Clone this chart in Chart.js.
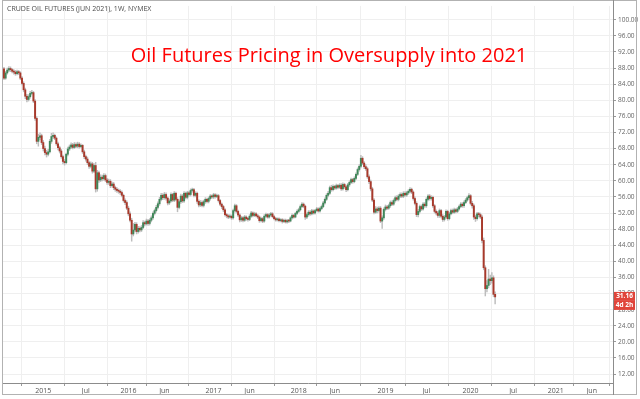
<!DOCTYPE html>
<html>
<head>
<meta charset="utf-8">
<script src="https://cdn.jsdelivr.net/npm/chart.js@4.4.1/dist/chart.umd.min.js"></script>
<style>
  html, body { margin: 0; padding: 0; background: #fff; }
</style>
</head>
<body>
<canvas id="myChart" width="640" height="399"></canvas>
<script>
// weekly candles, first bar = week of 2014-07-21
const startDate = "2014-07-21";

const open = [
  87.8, 85.5, 86.8, 87.5, 87.9, 87.6, 87.2, 87.0, 86.6, 87.1,
  86.8, 85.5, 84.2, 82.6, 81.0, 80.2, 80.9, 81.7, 81.9, 79.8,
  75.5, 69.8, 70.8, 71.2, 69.5, 68.0, 67.0, 66.6, 67.2, 69.8,
  71.0, 71.3, 70.6, 69.2, 68.2, 67.4, 66.0, 64.8, 64.5, 66.6,
  67.9, 68.4, 68.9, 68.3, 69.0, 68.6, 69.1, 68.5, 68.8, 67.2,
  66.0, 65.4, 64.5, 63.6, 64.2, 62.4, 63.8, 58.0, 62.0, 60.2,
  60.9, 60.5, 61.3, 60.2, 59.6, 59.9, 58.8, 59.2, 58.3, 57.9,
  57.6, 57.4, 57.1, 56.4, 55.1, 54.6, 53.2, 51.8, 50.2, 46.8,
  47.8, 49.2, 47.4, 48.2, 47.8, 48.4, 49.6, 49.3, 50.0, 49.4,
  50.2, 50.8, 51.9, 52.6, 53.4, 54.3, 55.4, 56.4, 55.8, 56.6,
  55.7, 54.5, 55.0, 56.6, 55.2, 56.9, 55.4, 53.4, 54.8, 56.2,
  55.0, 56.9, 55.9, 57.0, 56.6, 57.6, 57.8, 56.4, 56.9, 54.9,
  54.0, 54.6, 53.9, 54.8, 55.4, 54.9, 55.6, 56.2, 56.0, 56.5,
  56.1, 56.3, 55.1, 54.2, 53.6, 52.8, 51.6, 51.3, 51.0, 51.2,
  50.8, 52.6, 53.8, 52.4, 51.5, 50.3, 50.8, 50.2, 51.0, 50.6,
  50.4, 51.2, 52.0, 51.4, 51.8, 51.3, 51.0, 50.1, 50.6, 50.0,
  51.2, 51.6, 51.0, 51.5, 51.8, 51.1, 50.6, 50.3, 50.5, 50.1,
  50.3, 49.9, 50.2, 49.8, 50.1, 50.0, 50.8, 51.4, 51.0, 51.9,
  52.4, 52.8, 53.6, 54.2, 53.7, 51.0, 51.6, 52.2, 51.8, 52.5,
  52.0, 52.6, 53.0, 52.5, 53.1, 53.6, 54.5, 55.4, 56.4, 56.9,
  58.3, 57.8, 58.6, 58.2, 58.8, 58.4, 58.9, 58.0, 59.1, 58.5,
  57.8, 59.0, 59.6, 60.3, 59.8, 60.6, 61.6, 62.8, 63.6, 65.6,
  64.4, 63.5, 63.0, 61.0, 59.8, 58.0, 55.2, 52.2, 53.0, 52.6,
  53.2, 50.0, 50.8, 52.9, 53.5, 53.2, 53.8, 54.6, 54.2, 55.1,
  55.8, 55.4, 56.2, 56.6, 56.2, 56.9, 56.5, 57.0, 57.4, 57.9,
  57.2, 55.6, 54.4, 51.6, 52.4, 53.6, 53.0, 54.2, 53.8, 55.4,
  56.2, 55.6, 55.9, 53.8, 52.4, 52.0, 51.4, 52.6, 51.2, 50.4,
  51.0, 52.4, 50.6, 51.8, 52.6, 52.2, 52.8, 52.4, 53.0, 53.6,
  54.2, 53.8, 54.6, 55.2, 55.8, 56.3, 54.4, 53.8, 51.0, 50.6,
  51.8, 51.6, 51.0, 45.2, 38.4, 33.2, 34.0, 35.6, 35.2, 35.9, 31.8
];
const high = [
  88.2, 87.2, 88.0, 88.4, 88.3, 87.9, 87.6, 87.4, 87.5, 87.4,
  87.1, 85.9, 84.6, 83.0, 81.5, 81.4, 82.2, 82.5, 82.2, 80.2,
  75.9, 71.6, 71.9, 71.6, 70.0, 68.6, 67.6, 67.8, 70.3, 71.8,
  71.9, 71.6, 70.9, 69.6, 68.6, 67.8, 66.4, 65.3, 66.9, 68.4,
  68.9, 69.4, 69.3, 69.5, 69.4, 69.6, 69.5, 69.2, 69.0, 67.6,
  66.4, 65.9, 64.9, 64.7, 64.6, 64.3, 64.6, 62.6, 62.4, 61.5,
  61.4, 61.8, 61.7, 60.6, 60.4, 60.3, 59.7, 59.6, 58.7, 58.3,
  58.0, 57.8, 57.5, 56.7, 55.5, 55.0, 53.7, 52.3, 50.7, 49.4,
  49.7, 49.6, 48.7, 48.6, 48.9, 50.1, 50.0, 50.5, 50.4, 50.6,
  51.3, 52.3, 53.0, 53.9, 54.8, 55.9, 56.9, 56.8, 57.1, 57.0,
  56.0, 55.5, 57.0, 56.9, 57.3, 57.2, 55.8, 55.3, 56.7, 56.6,
  57.3, 57.2, 57.4, 57.4, 58.0, 58.2, 58.1, 57.3, 57.2, 55.3,
  55.1, 55.0, 55.2, 55.8, 55.7, 56.0, 56.6, 56.5, 56.9, 56.8,
  56.7, 56.6, 55.4, 54.5, 53.9, 53.1, 51.9, 51.6, 51.6, 51.5,
  53.0, 54.2, 54.1, 52.7, 51.8, 51.2, 51.1, 51.4, 51.3, 50.9,
  51.6, 52.4, 52.3, 52.2, 52.1, 51.7, 51.3, 51.0, 50.9, 51.6,
  52.0, 51.9, 51.9, 52.2, 52.1, 51.4, 50.9, 50.8, 50.8, 50.6,
  50.6, 50.5, 50.5, 50.4, 50.4, 51.1, 51.8, 51.7, 52.2, 52.8,
  53.2, 54.0, 54.6, 54.5, 54.0, 52.0, 52.6, 52.6, 52.9, 52.8,
  52.9, 53.4, 53.3, 53.5, 54.0, 54.9, 55.8, 56.8, 57.4, 58.7,
  58.9, 59.0, 58.9, 59.2, 59.1, 59.3, 59.3, 59.5, 59.4, 58.8,
  59.4, 60.0, 60.7, 60.6, 61.0, 62.0, 63.2, 64.0, 66.3, 66.0,
  64.8, 64.0, 63.4, 61.5, 60.2, 58.4, 55.6, 53.6, 53.5, 53.6,
  53.6, 51.3, 53.3, 54.0, 53.9, 54.2, 55.0, 55.0, 55.5, 56.2,
  56.3, 56.6, 57.0, 57.0, 57.3, 57.3, 57.4, 57.8, 58.3, 58.2,
  57.5, 56.0, 54.8, 52.9, 54.0, 54.0, 54.6, 54.6, 55.8, 56.6,
  56.6, 56.3, 56.2, 54.1, 52.8, 52.4, 53.0, 52.9, 51.6, 51.4,
  52.8, 52.7, 52.2, 53.0, 53.0, 53.2, 53.1, 53.4, 54.0, 54.6,
  54.6, 55.0, 55.6, 56.2, 56.8, 56.6, 54.9, 54.2, 51.5, 52.2,
  52.2, 52.0, 51.5, 45.8, 38.9, 35.2, 38.0, 36.6, 37.2, 36.4, 32.4
];
const low = [
  85.1, 85.2, 86.5, 87.1, 87.1, 86.8, 86.5, 86.2, 86.3, 86.4,
  85.1, 83.8, 82.1, 80.4, 79.6, 79.8, 80.5, 81.3, 79.4, 75.0,
  69.2, 68.6, 70.2, 69.0, 67.4, 66.4, 65.9, 66.2, 66.9, 69.3,
  70.5, 70.2, 68.8, 67.7, 66.9, 65.6, 64.2, 63.9, 64.2, 66.2,
  67.5, 68.0, 67.9, 68.0, 68.2, 68.2, 68.1, 68.2, 66.8, 65.5,
  64.9, 64.0, 63.1, 63.2, 61.9, 62.0, 57.2, 57.4, 59.6, 59.8,
  60.0, 60.1, 59.8, 59.1, 59.1, 58.3, 58.4, 57.8, 57.4, 57.1,
  56.9, 56.6, 56.0, 54.7, 54.1, 52.8, 51.3, 49.8, 45.0, 46.3,
  47.3, 46.8, 47.0, 47.3, 47.4, 48.1, 48.8, 49.0, 48.9, 49.0,
  49.8, 50.4, 51.5, 52.2, 53.0, 53.9, 55.0, 55.3, 55.4, 55.2,
  54.0, 54.1, 54.7, 54.8, 54.8, 55.0, 52.3, 53.0, 54.4, 54.6,
  54.6, 55.5, 55.5, 56.2, 56.2, 57.2, 56.0, 56.0, 54.4, 53.5,
  53.6, 53.5, 53.5, 54.4, 54.5, 54.5, 55.2, 55.6, 55.6, 55.7,
  55.8, 54.7, 53.8, 53.1, 52.3, 51.2, 50.8, 50.6, 50.7, 50.4,
  50.5, 52.2, 52.0, 51.1, 49.8, 49.9, 49.8, 49.9, 50.2, 50.0,
  50.1, 50.9, 51.0, 51.1, 51.0, 50.6, 49.7, 49.8, 49.6, 49.7,
  50.9, 50.7, 50.7, 51.2, 50.8, 50.3, 50.0, 50.0, 49.8, 49.8,
  49.5, 49.6, 49.5, 49.5, 49.6, 49.8, 50.5, 50.7, 50.8, 51.6,
  52.1, 52.5, 53.3, 53.3, 50.4, 50.6, 51.2, 51.4, 51.5, 51.7,
  51.7, 52.3, 52.2, 52.2, 52.8, 53.3, 54.2, 55.1, 56.0, 56.6,
  57.4, 57.5, 57.8, 57.9, 58.0, 58.1, 57.6, 57.7, 58.1, 57.3,
  57.5, 58.6, 59.3, 59.4, 59.5, 60.3, 61.3, 62.4, 63.2, 64.0,
  63.0, 62.6, 60.6, 59.3, 57.5, 54.8, 51.8, 51.9, 52.0, 52.2,
  49.6, 48.2, 50.4, 52.5, 52.8, 52.9, 53.4, 53.8, 53.9, 54.7,
  55.0, 55.0, 55.8, 55.8, 55.8, 56.1, 56.1, 56.6, 57.0, 56.8,
  55.2, 54.0, 51.1, 51.0, 52.0, 52.6, 52.7, 53.4, 53.4, 55.0,
  55.2, 55.2, 53.4, 52.0, 51.5, 50.9, 50.9, 50.8, 49.9, 50.0,
  50.7, 50.2, 50.3, 51.5, 51.8, 51.9, 52.0, 52.1, 52.7, 53.3,
  53.4, 53.4, 54.3, 54.9, 55.4, 54.0, 53.2, 50.4, 49.9, 50.2,
  51.0, 50.6, 44.6, 37.9, 31.4, 32.4, 33.4, 34.2, 34.6, 31.2, 29.4
];
const close = [
  85.5, 86.8, 87.5, 87.9, 87.6, 87.2, 87.0, 86.6, 87.1, 86.8,
  85.5, 84.2, 82.6, 81.0, 80.2, 80.9, 81.7, 81.9, 79.8, 75.5,
  69.8, 70.8, 71.2, 69.5, 68.0, 67.0, 66.6, 67.2, 69.8, 71.0,
  71.3, 70.6, 69.2, 68.2, 67.4, 66.0, 64.8, 64.5, 66.6, 67.9,
  68.4, 68.9, 68.3, 69.0, 68.6, 69.1, 68.5, 68.8, 67.2, 66.0,
  65.4, 64.5, 63.6, 64.2, 62.4, 63.8, 58.0, 62.0, 60.2, 60.9,
  60.5, 61.3, 60.2, 59.6, 59.9, 58.8, 59.2, 58.3, 57.9, 57.6,
  57.4, 57.1, 56.4, 55.1, 54.6, 53.2, 51.8, 50.2, 46.8, 47.8,
  49.2, 47.4, 48.2, 47.8, 48.4, 49.6, 49.3, 50.0, 49.4, 50.2,
  50.8, 51.9, 52.6, 53.4, 54.3, 55.4, 56.4, 55.8, 56.6, 55.7,
  54.5, 55.0, 56.6, 55.2, 56.9, 55.4, 53.4, 54.8, 56.2, 55.0,
  56.9, 55.9, 57.0, 56.6, 57.6, 57.8, 56.4, 56.9, 54.9, 54.0,
  54.6, 53.9, 54.8, 55.4, 54.9, 55.6, 56.2, 56.0, 56.5, 56.1,
  56.3, 55.1, 54.2, 53.6, 52.8, 51.6, 51.3, 51.0, 51.2, 50.8,
  52.6, 53.8, 52.4, 51.5, 50.3, 50.8, 50.2, 51.0, 50.6, 50.4,
  51.2, 52.0, 51.4, 51.8, 51.3, 51.0, 50.1, 50.6, 50.0, 51.2,
  51.6, 51.0, 51.5, 51.8, 51.1, 50.6, 50.3, 50.5, 50.1, 50.3,
  49.9, 50.2, 49.8, 50.1, 50.0, 50.8, 51.4, 51.0, 51.9, 52.4,
  52.8, 53.6, 54.2, 53.7, 51.0, 51.6, 52.2, 51.8, 52.5, 52.0,
  52.6, 53.0, 52.5, 53.1, 53.6, 54.5, 55.4, 56.4, 56.9, 58.3,
  57.8, 58.6, 58.2, 58.8, 58.4, 58.9, 58.0, 59.1, 58.5, 57.8,
  59.0, 59.6, 60.3, 59.8, 60.6, 61.6, 62.8, 63.6, 65.6, 64.4,
  63.5, 63.0, 61.0, 59.8, 58.0, 55.2, 52.2, 53.0, 52.6, 53.2,
  50.0, 50.8, 52.9, 53.5, 53.2, 53.8, 54.6, 54.2, 55.1, 55.8,
  55.4, 56.2, 56.6, 56.2, 56.9, 56.5, 57.0, 57.4, 57.9, 57.2,
  55.6, 54.4, 51.6, 52.4, 53.6, 53.0, 54.2, 53.8, 55.4, 56.2,
  55.6, 55.9, 53.8, 52.4, 52.0, 51.4, 52.6, 51.2, 50.4, 51.0,
  52.4, 50.6, 51.8, 52.6, 52.2, 52.8, 52.4, 53.0, 53.6, 54.2,
  53.8, 54.6, 55.2, 55.8, 56.3, 54.4, 53.8, 51.0, 50.6, 51.8,
  51.6, 51.0, 45.2, 38.4, 33.2, 34.0, 35.6, 35.2, 35.9, 31.8, 31.16
];

const tickDates = ["2015-01-05", "2015-07-06", "2016-01-04", "2016-06-06", "2017-01-02", "2017-06-05",
  "2018-01-01", "2018-06-04", "2019-01-07", "2019-07-01", "2020-01-06", "2020-07-06", "2021-01-04", "2021-06-07"];
const tickLabels = ["2015", "Jul", "2016", "Jun", "2017", "Jun", "2018", "Jun", "2019", "Jul", "2020", "Jul", "2021", "Jun"];
const priceTicks = [12, 16, 20, 24, 28, 32, 36, 40, 44, 48, 52, 56, 60, 64, 68, 72, 76, 80, 84, 88, 92, 96, 100];

const symbolText = "CRUDE OIL FUTURES (JUN 2021), 1W, NYMEX";
const titleText = "Oil Futures Pricing in Oversupply into 2021";
const countdownText = "4d 2h";

const upColor = "#3f8759";
const downColor = "#a8392b";
const wickColor = "#bdbdbd";

const weekIndex = (d) => Math.round((Date.parse(d) - Date.parse(startDate)) / (7 * 864e5));

const bodies = close.map((c, i) => ({ x: i, y: [open[i], c] }));
const wicks = close.map((c, i) => ({ x: i, y: [low[i], high[i]] }));
const candleColor = (ctx) => (close[ctx.dataIndex] >= open[ctx.dataIndex] ? upColor : downColor);

const decor = {
  id: "decor",
  beforeDraw(chart) {
    const ctx = chart.ctx;
    ctx.save();
    ctx.fillStyle = "#ffffff";
    ctx.fillRect(0, 0, chart.width, chart.height);
    ctx.restore();
  },
  afterDraw(chart) {
    const ctx = chart.ctx;
    const area = chart.chartArea;
    const ya = chart.scales.y;
    ctx.save();
    // outer frame + axis separators
    ctx.strokeStyle = "#b2b2b2";
    ctx.lineWidth = 1;
    ctx.strokeRect(2.5, 0.5, 634, 394);
    ctx.strokeStyle = "#8c8c8c";
    ctx.beginPath();
    ctx.moveTo(Math.round(area.right) + 0.5, 0);
    ctx.lineTo(Math.round(area.right) + 0.5, 395);
    ctx.stroke();

    // symbol line
    ctx.fillStyle = "#4a4a4a";
    ctx.font = "7px 'Open Sans'";
    ctx.textBaseline = "middle";
    ctx.fillText(symbolText, 7, 9);

    // big red title
    ctx.fillStyle = "#ff0000";
    ctx.font = "20px 'Open Sans'";
    ctx.textAlign = "center";
    ctx.textBaseline = "alphabetic";
    ctx.fillText(titleText, 329, 62);

    // last price marker
    const last = close[close.length - 1];
    const py = ya.getPixelForValue(last);
    ctx.fillStyle = "#e0443a";
    ctx.fillRect(area.right + 1, py - 5, 21, 9);
    ctx.fillRect(area.right + 1, py + 4, 21, 9);
    ctx.fillStyle = "#ffffff";
    ctx.font = "bold 6.5px 'Open Sans'";
    ctx.textBaseline = "middle";
    ctx.fillText(last.toFixed(2), area.right + 11.5, py - 0.5);
    ctx.fillText(countdownText, area.right + 11.5, py + 8.5);
    ctx.restore();
  }
};

const ctx = document.getElementById("myChart").getContext("2d");

const chart = new Chart(ctx, {
  type: "bar",
  data: {
    datasets: [
      {
        label: "body",
        data: bodies,
        backgroundColor: candleColor,
        barThickness: 1.3,
        minBarLength: 1,
        grouped: false
      },
      {
        label: "wick",
        data: wicks,
        backgroundColor: wickColor,
        barThickness: 0.8,
        grouped: false
      }
    ]
  },
  options: {
    responsive: false,
    animation: false,
    layout: { padding: { left: 3, right: 0, top: 2, bottom: 0 } },
    plugins: {
      legend: { display: false },
      tooltip: { enabled: false }
    },
    scales: {
      x: {
        type: "linear",
        min: -0.6,
        max: 372,
        offset: false,
        afterBuildTicks: (scale) => {
          scale.ticks = tickDates.map((d) => ({ value: weekIndex(d) }));
        },
        afterFit: (scale) => {
          scale.height = 16;
        },
        ticks: {
          autoSkip: false,
          maxRotation: 0,
          padding: 1,
          color: "#555555",
          font: { family: "Open Sans", size: 7 },
          callback: (v, i) => tickLabels[i]
        },
        grid: { color: "#efefef", tickLength: 3, tickColor: "#9a9a9a" },
        border: { display: true, color: "#8c8c8c" }
      },
      y: {
        position: "right",
        min: 9.78,
        max: 103.44,
        afterBuildTicks: (scale) => {
          scale.ticks = priceTicks.map((v) => ({ value: v }));
        },
        afterFit: (scale) => {
          scale.width = 27;
        },
        ticks: {
          padding: 2,
          color: "#666666",
          font: { family: "Open Sans", size: 6.5 },
          callback: (v) => Number(v).toFixed(2)
        },
        grid: { color: "#efefef", tickLength: 3, tickColor: "#9a9a9a" },
        border: { display: true, color: "#8c8c8c" }
      }
    }
  },
  plugins: [decor]
});
</script>
</body>
</html>
